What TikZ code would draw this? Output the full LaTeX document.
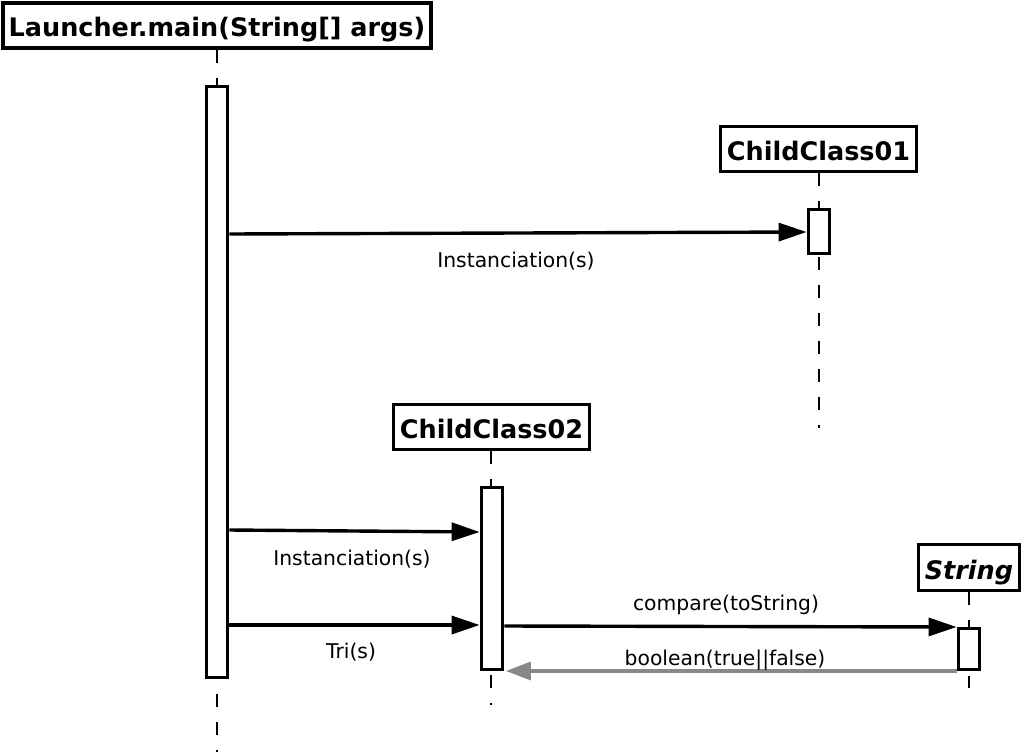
\documentclass[tikz,border=0pt]{standalone}
\usepackage{fontspec}
\setmainfont{DejaVu Sans}
\usetikzlibrary{arrows.meta}
\begin{document}
\begin{tikzpicture}[x=1pt,y=-1pt,
  objbox/.style={draw=black,line width=3.8pt,fill=white,inner sep=0pt,text height=23pt,text depth=0pt,font=\fontsize{25.5}{28}\selectfont\bfseries},
  actbar/.style={draw=black,line width=3.8pt,fill=white,inner sep=0pt,minimum width=21pt},
  lifeline/.style={draw=black,line width=1.7pt,dash pattern=on 13pt off 15pt},
  msg/.style={draw=black,line width=3.4pt,-{Triangle[length=28pt,width=18pt]}},
  ret/.style={color={rgb,255:red,136;green,136;blue,136},line width=3.4pt,-{Triangle[length=25pt,width=18pt]}},
  lbl/.style={inner sep=0pt,font=\fontsize{20.3}{23}\selectfont}]
\useasboundingbox (0,0) rectangle (1024,752);
% object boxes
\node[objbox,minimum width=428pt,minimum height=45pt] (launcher) at (217,25.5) {Launcher.main(String[] args)};
\node[objbox,minimum width=196pt,minimum height=45pt] (cc1) at (818.5,149) {ChildClass01};
\node[objbox,minimum width=196pt,minimum height=45pt] (cc2) at (491.5,427) {ChildClass02};
\node[objbox,minimum width=101pt,minimum height=46pt] (str) at (969,567.5) {\itshape String};
% lifeline ends
\coordinate (lend) at (217,752);
\coordinate (c1end) at (819,428);
\coordinate (c2end) at (491,705);
\coordinate (send) at (969,688);
\draw[lifeline] (launcher.south) -- (lend);
\draw[lifeline] (cc1.south -| c1end) -- (c1end);
\draw[lifeline] (cc2.south -| c2end) -- (c2end);
\draw[lifeline] (str.south) -- (send);
% activation bars
\node[actbar,minimum height=591pt] (lact) at (217,382) {};
\node[actbar,minimum height=44pt] (c1act) at (819,231.5) {};
\node[actbar,minimum height=182pt] (c2act) at (492,578.5) {};
\node[actbar,minimum height=41pt] (sact) at (969,649) {};
% messages
\draw[msg] (lact.east |- 0,234) -- (c1act.west |- 0,232);
\node[lbl] (l1) at (516,261) {Instanciation(s)};
\draw[msg] (lact.east |- 0,530) -- (c2act.west |- 0,532);
\node[lbl] (l2) at (352,559) {Instanciation(s)};
\draw[msg] (lact.east |- 0,625) -- (c2act.west |- 0,625);
\node[lbl] (l3) at (351,652) {Tri(s)};
\draw[msg] (c2act.east |- 0,626) -- (sact.west |- 0,627);
\node[lbl] (l4) at (726,605) {compare(toString)};
\draw[ret] (sact.west |- 0,671) -- ([xshift=1.5pt]c2act.east |- 0,671);
\node[lbl] (l5) at (725,660) {boolean(true||false)};
\end{tikzpicture}
\end{document}
